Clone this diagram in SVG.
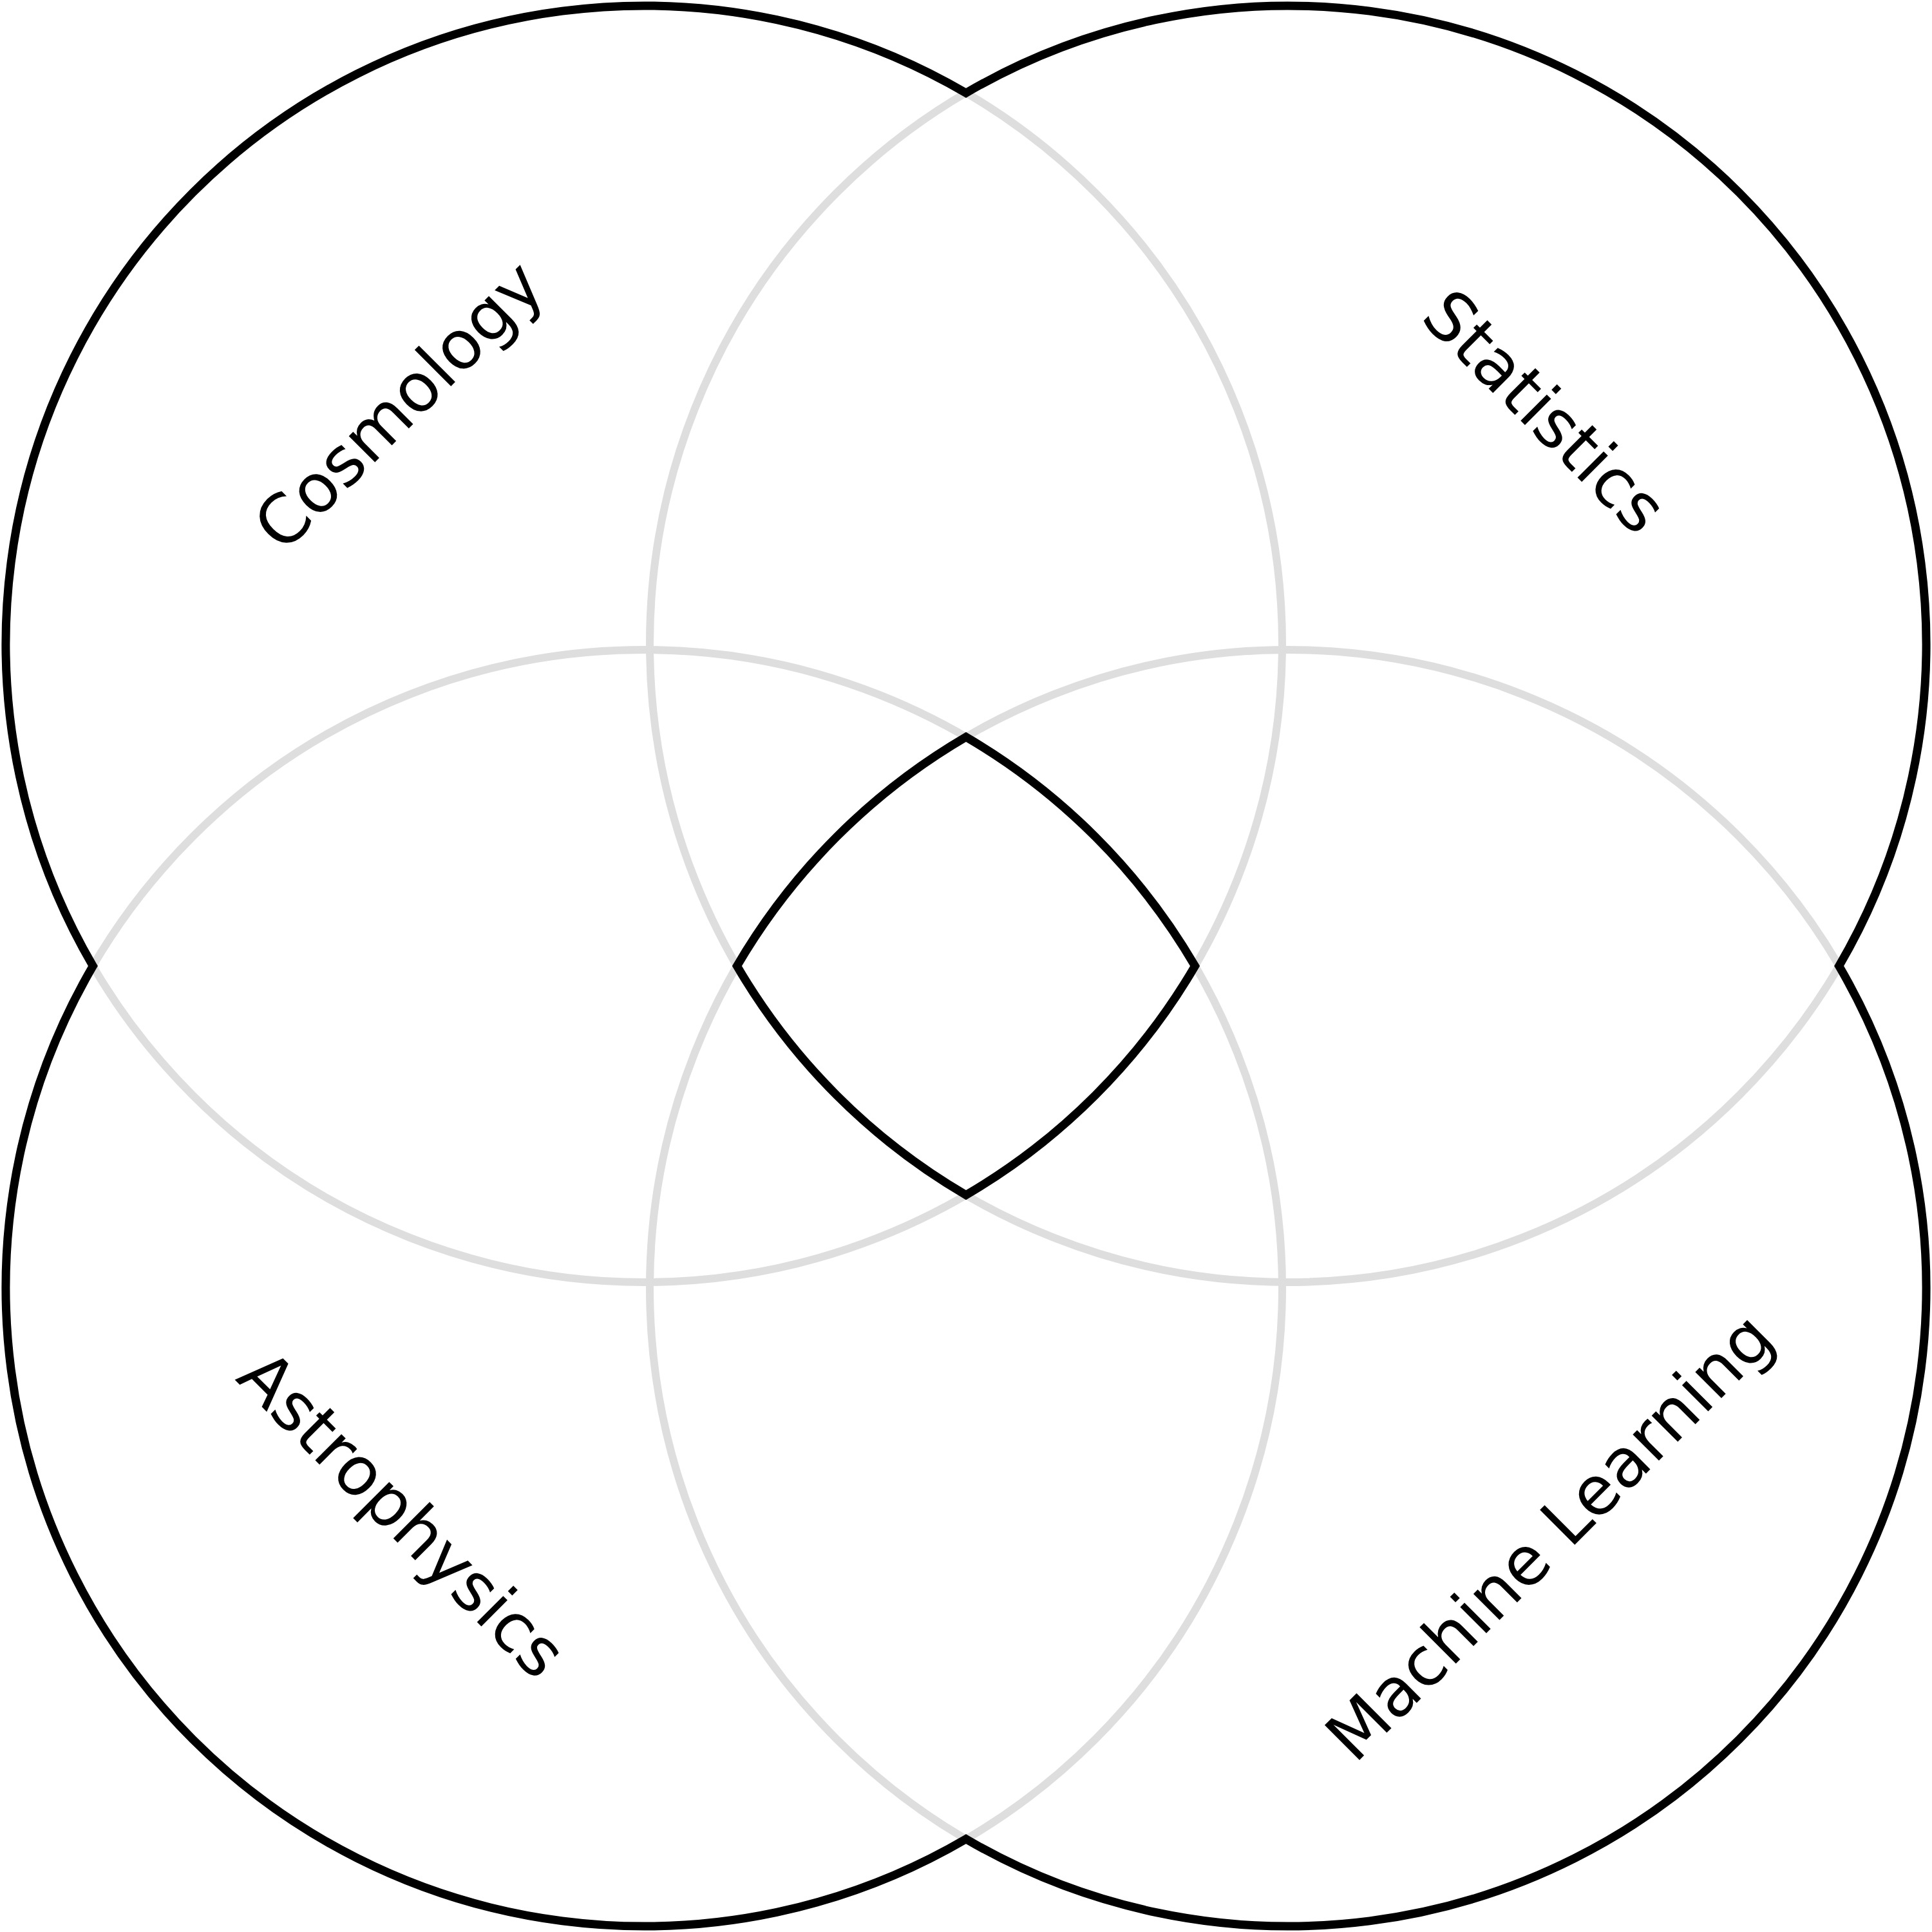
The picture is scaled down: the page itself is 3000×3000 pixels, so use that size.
<svg xmlns="http://www.w3.org/2000/svg" width="3000" height="3000" viewBox="0 0 3000 3000">
<style>
.set{fill:none;stroke:#dedede;stroke-width:12}
.outline{fill:none;stroke:#000;stroke-width:13;stroke-linejoin:miter;stroke-miterlimit:10}
.label{font-family:"DejaVu Sans",sans-serif;font-size:105px;fill:#000;text-anchor:middle}
</style>
<rect width="3000" height="3000" fill="#fff"/>
<g id="sets">
<g id="cosmology"><circle class="set" cx="1000" cy="1000" r="991"/><text class="label" transform="translate(645,655) rotate(-45)">Cosmology</text></g>
<g id="statistics"><circle class="set" cx="2000" cy="1000" r="991"/><text class="label" transform="translate(2373,665) rotate(45)">Statistics</text></g>
<g id="astrophysics"><circle class="set" cx="1000" cy="2000" r="991"/><text class="label" transform="translate(599,2377) rotate(45)">Astrophysics</text></g>
<g id="machine-learning"><circle class="set" cx="2000" cy="2000" r="991"/><text class="label" transform="translate(2432,2412) rotate(-45)">Machine Learning</text></g>
</g>
<g id="outlines">
<path class="outline" d="M1500,144.38 A991,991 0 0 1 2855.62,1500 A991,991 0 0 1 1500,2855.62 A991,991 0 0 1 144.38,1500 A991,991 0 0 1 1500,144.38 Z"/>
<path class="outline" d="M1144.38,1500 A991,991 0 0 1 1500,1144.38 A991,991 0 0 1 1855.62,1500 A991,991 0 0 1 1500,1855.62 A991,991 0 0 1 1144.38,1500 Z"/>
</g>
</svg>
